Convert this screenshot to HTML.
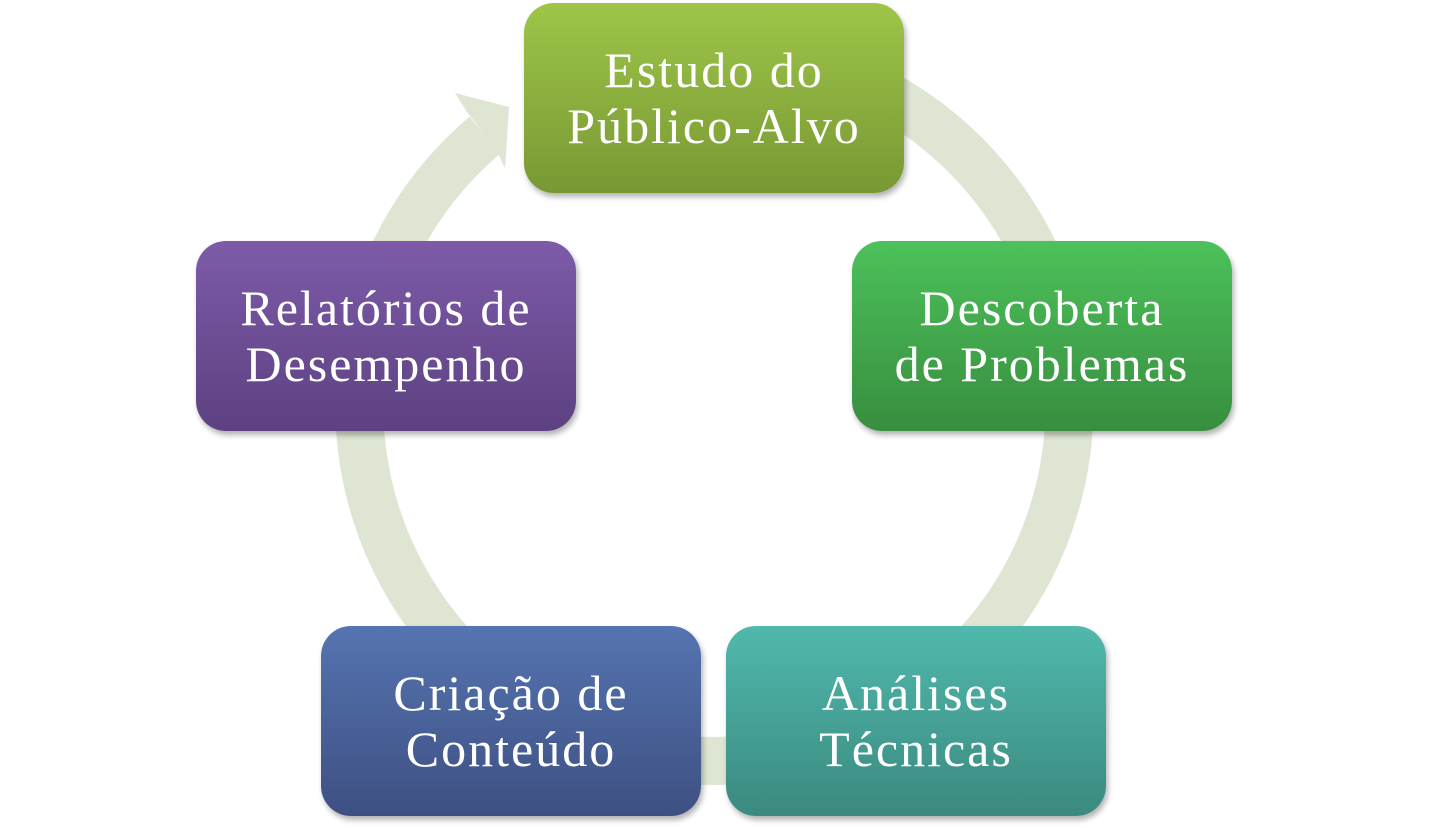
<!DOCTYPE html>
<html><head><meta charset="utf-8"><style>
body{margin:0;width:1429px;height:828px;background:#fff;position:relative;overflow:hidden;font-family:"Liberation Serif",serif}
.b{position:absolute;width:380px;height:190px;border-radius:30px;color:#fff;font-size:50px;line-height:56px;display:flex;align-items:center;justify-content:center;text-align:center;box-shadow:2px 4px 6px rgba(0,0,0,0.3);letter-spacing:2px}
</style></head><body>
<svg width="1429" height="828" style="position:absolute;left:0;top:0">
<path d="M714 51 A355 355 0 1 1 485 135" fill="none" stroke="#dee6d3" stroke-width="48"/>
<polygon points="455,93 509,107 505,168 495,148 467,112" fill="#dee6d3"/>
</svg>
<div class="b" style="left:524px;top:3px;background:linear-gradient(#9ec549,#789833)">Estudo do<br>Público-Alvo</div>
<div class="b" style="left:852px;top:241px;background:linear-gradient(#4cc15a,#388e3f)">Descoberta<br>de Problemas</div>
<div class="b" style="left:726px;top:626px;background:linear-gradient(#50b9ac,#3b897f)">Análises<br>Técnicas</div>
<div class="b" style="left:321px;top:626px;background:linear-gradient(#5574b1,#3e5082)">Criação de<br>Conteúdo</div>
<div class="b" style="left:196px;top:241px;background:linear-gradient(#7d5ba9,#5d4181)">Relatórios de<br>Desempenho</div>
</body></html>
